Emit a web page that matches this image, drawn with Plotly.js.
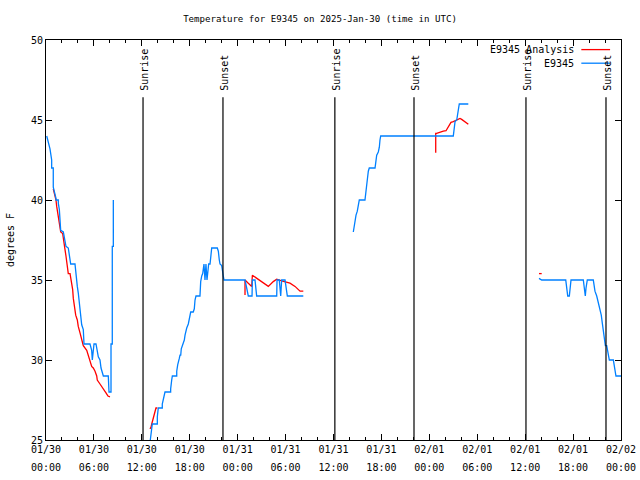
<!DOCTYPE html>
<html>
<head>
<meta charset="utf-8">
<script src="https://cdn.plot.ly/plotly-3.0.1.min.js"></script>
<style>html,body{margin:0;padding:0;background:#fff}#chart{width:640px;height:480px}</style>
</head>
<body>
<div id="chart"></div>
<script>
// Hours since 2025-01-30 00:00 UTC (null = gap)
const observedHours = [
  0.09,0.34,0.50,0.71,0.71,0.91,0.91,1.25,1.25,1.54,1.54,1.67,1.75,1.84,1.84,2.17,2.25,2.38,2.50,2.79,2.92,3.09,3.63,3.72,3.84,3.92,4.04,4.17,4.26,4.35,4.47,4.67,4.76,5.51,5.72,5.80,5.92,6.01,6.26,6.42,6.55,6.76,6.89,7.18,7.80,7.89,8.14,8.14,8.30,8.30,8.43,8.43,
  null,
  13.06,13.15,13.24,13.31,13.94,13.94,14.06,14.56,14.56,14.69,14.78,14.90,15.61,15.61,15.74,15.82,16.37,16.37,16.49,16.57,16.69,16.78,16.87,16.94,17.07,17.19,17.32,17.41,17.49,17.62,17.82,17.91,18.03,18.12,18.44,18.57,18.66,18.78,19.28,19.28,19.37,19.50,19.62,19.70,19.78,19.91,20.03,20.16,20.29,20.37,20.54,20.62,20.75,21.45,21.58,21.70,21.79,22.00,22.13,22.20,22.29,
  24.92,25.13,25.33,25.80,25.84,26.17,26.38,28.89,28.93,29.21,29.39,29.51,29.93,30.22,32.22,
  null,
  38.48,38.57,38.69,38.82,38.98,39.11,39.23,39.94,40.03,40.16,40.23,40.36,40.48,41.20,41.28,41.41,41.61,41.74,41.82,41.91,51.00,51.09,51.22,51.43,51.50,51.63,51.75,52.88,
  null,
  61.73,62.07,65.08,65.20,65.33,65.53,65.61,65.74,67.28,67.40,67.53,67.62,67.78,68.53,68.62,68.74,68.96,69.08,69.25,69.37,69.53,69.66,69.78,69.91,70.04,70.21,70.33,70.41,70.54,71.04,71.16,71.29,71.37,72.0
];
const observedTemps = [
  44.0,43.5,43.2,42.5,42.0,42.0,40.8,40.1,40.0,40.0,39.8,39.4,39.0,38.4,38.1,38.0,37.8,37.3,37.1,37.0,36.6,36.0,36.0,35.4,35.1,34.6,34.2,33.5,32.9,32.5,32.2,31.9,31.0,31.0,30.6,30.0,30.6,31.0,31.0,30.6,30.2,30.0,29.5,29.0,29.0,28.0,28.0,31.0,31.0,37.1,37.1,40.0,
  null,
  25.0,25.5,25.9,26.0,26.0,26.45,27.0,27.0,27.25,27.6,27.9,28.0,28.0,28.2,28.75,29.0,29.0,29.3,29.7,30.0,30.1,30.3,30.3,30.7,30.9,31.0,31.25,31.56,31.8,32.0,32.25,32.56,32.7,33.0,33.0,33.2,33.75,34.0,34.0,34.6,34.9,35.25,35.4,35.7,36.0,35.0,36.0,35.0,35.5,36.0,36.0,36.5,37.0,37.0,36.8,36.25,36.0,35.9,35.6,35.25,35.0,
  35.0,34.5,34.0,34.0,35.0,35.0,34.0,34.0,35.0,35.0,34.0,35.0,35.0,34.0,34.0,
  null,
  38.0,38.3,38.85,39.06,39.3,39.8,40.0,40.0,40.3,40.7,41.25,41.8,42.0,42.0,42.3,42.8,43.0,43.3,43.75,44.0,44.0,44.6,44.9,45.0,45.3,45.7,46.0,46.0,
  null,
  35.1,35.0,35.0,34.4,34.0,34.0,34.4,35.0,35.0,34.5,34.0,34.5,35.0,35.0,34.7,34.3,34.0,33.75,33.2,33.0,32.8,32.3,31.8,31.25,30.9,30.9,30.6,30.3,30.0,30.0,29.7,29.3,29.0,29.0
];
const analysisHours = [
  0.91,1.13,1.25,1.34,1.47,1.54,1.75,1.84,2.09,2.17,2.25,2.38,2.50,2.59,2.79,3.01,3.22,3.34,3.42,3.54,3.72,3.92,4.04,4.26,4.47,4.67,5.10,5.30,5.51,5.72,5.92,6.14,6.35,6.42,6.76,7.14,7.51,7.76,8.01,
  null,
  13.02,13.15,13.24,13.36,13.44,13.56,13.65,13.77,13.94,
  null,
  24.92,24.92,25.33,25.76,25.84,26.38,27.01,27.84,28.46,28.89,29.51,29.93,30.55,31.18,31.81,32.22,
  null,
  48.80,48.80,48.92,49.21,49.46,49.75,50.09,50.25,50.50,50.71,51.00,51.22,51.43,51.63,51.84,52.05,52.25,52.46,52.68,52.88,
  null,
  61.73,62.07
];
const analysisTemps = [
  40.7,40.3,40.0,39.6,39.2,38.75,38.3,38.0,37.9,37.5,37.2,36.9,36.5,36.0,35.4,35.4,34.8,34.4,33.85,33.3,32.8,32.5,32.1,31.7,31.25,30.9,30.6,30.3,30.0,29.6,29.5,29.3,29.0,28.75,28.5,28.25,27.95,27.75,27.7,
  null,
  25.7,25.8,26.0,26.25,26.5,26.6,26.8,27.0,27.0,
  null,
  34.06,35.0,34.8,34.6,35.3,35.1,34.9,34.6,34.9,35.05,34.95,34.9,34.8,34.6,34.3,34.3,
  null,
  42.96,44.17,44.17,44.23,44.27,44.31,44.33,44.48,44.69,44.85,44.9,44.96,45.04,45.08,45.1,45.04,44.96,44.85,44.79,44.73,
  null,
  35.4,35.4
];
const sunEvents = ["Sunrise","Sunset","Sunrise","Sunset","Sunrise","Sunset"];
const sunHours = [12.15,22.16,36.17,46.08,60.10,70.12];
const tickHours = [0,6,12,18,24,30,36,42,48,54,60,66,72];
const tickDates = ["01/30","01/30","01/30","01/30","01/31","01/31","01/31","01/31","02/01","02/01","02/01","02/01","02/02"];
const tickTimes = ["00:00","06:00","12:00","18:00","00:00","06:00","12:00","18:00","00:00","06:00","12:00","18:00","00:00"];
const seriesNames = ["E9345 Analysis","E9345"];
const seriesColors = ["#ff0000","#0080ff"];

const START = Date.UTC(2025,0,30,0,0,0);
function pad(n){return (n<10?"0":"")+n;}
function toDate(h){
  if(h===null) return null;
  const d = new Date(START + Math.round(h*3600000));
  return d.getUTCFullYear()+"-"+pad(d.getUTCMonth()+1)+"-"+pad(d.getUTCDate())+" "+pad(d.getUTCHours())+":"+pad(d.getUTCMinutes())+":"+pad(d.getUTCSeconds());
}

const FONT = "DejaVu Sans Mono, monospace";
const traces = [
  {x: analysisHours.map(toDate), y: analysisTemps, name: seriesNames[0], type:"scatter", mode:"lines",
   line:{color:seriesColors[0], width:1.3}, connectgaps:false},
  {x: observedHours.map(toDate), y: observedTemps, name: seriesNames[1], type:"scatter", mode:"lines",
   line:{color:seriesColors[1], width:1.3}, connectgaps:false},
  // carrier for the second row of time-of-day tick labels (draws nothing)
  {x: tickHours.map(toDate), y: tickHours.map(() => null), xaxis:"x2", yaxis:"y", type:"scatter", mode:"lines",
   showlegend:false, hoverinfo:"skip", line:{width:0}}
];

const shapes = sunHours.map(h => ({type:"line", xref:"x", yref:"paper", x0:toDate(h), x1:toDate(h), y0:0, y1:0.857,
  line:{color:"#000", width:1.2}}));
const annotations = sunHours.map((h,i) => ({xref:"x", yref:"paper", x:toDate(h), y:0.868, yanchor:"bottom", xanchor:"center",
  text:sunEvents[i], textangle:-90, showarrow:false, xshift:2, font:{family:FONT, size:10, color:"#000"}}));
// legend (gnuplot style: text left, sample right)
const legY = [0.976, 0.942];
seriesNames.forEach((n,i) => {
  annotations.push({xref:"paper", yref:"paper", x:0.922, y:legY[i], xanchor:"right", yanchor:"middle", text:n,
    showarrow:false, font:{family:FONT, size:10, color:"#000"}});
  shapes.push({type:"line", xref:"paper", yref:"paper", x0:0.931, x1:0.981, y0:legY[i], y1:legY[i],
    line:{color:seriesColors[i], width:1.3}});
});

const xr = [toDate(0), toDate(72)];
const layout = {
  width:640, height:480,
  margin:{l:46, r:19, t:40, b:40, pad:0},
  paper_bgcolor:"#fff", plot_bgcolor:"#fff",
  showlegend:false,
  font:{family:FONT, size:10, color:"#000"},
  title:{text:"Temperature for E9345 on 2025-Jan-30 (time in UTC)", x:0.5, xref:"container", y:0.96, yref:"container",
    yanchor:"middle", font:{family:FONT, size:9.1, color:"#000"}},
  xaxis:{type:"date", range:xr, tickmode:"array", tickvals:tickHours.map(toDate), ticktext:tickDates,
    ticks:"inside", ticklen:6, tickcolor:"#000", showline:true, linecolor:"#000", linewidth:1, mirror:"ticks",
    showgrid:false, zeroline:false, tickfont:{family:FONT, size:10},
    minor:{dtick:7200000, ticks:"inside", ticklen:3, tickcolor:"#000", showgrid:false}},
  xaxis2:{type:"date", range:xr, overlaying:"x", side:"bottom", anchor:"y", tickmode:"array",
    tickvals:tickHours.map(toDate), ticktext:tickTimes, ticks:"", ticklabelstandoff:20, showline:false,
    showgrid:false, zeroline:false, tickfont:{family:FONT, size:10}},
  yaxis:{range:[25,50], dtick:5, tick0:25, ticks:"inside", ticklen:6, tickcolor:"#000", showline:true, linecolor:"#000",
    linewidth:1, mirror:"ticks", showgrid:false, zeroline:false, tickfont:{family:FONT, size:10},
    title:{text:"degrees F", standoff:14, font:{family:FONT, size:10}}},
  shapes:shapes, annotations:annotations
};
Plotly.newPlot("chart", traces, layout, {staticPlot:true, displayModeBar:false});
</script>
</body>
</html>
